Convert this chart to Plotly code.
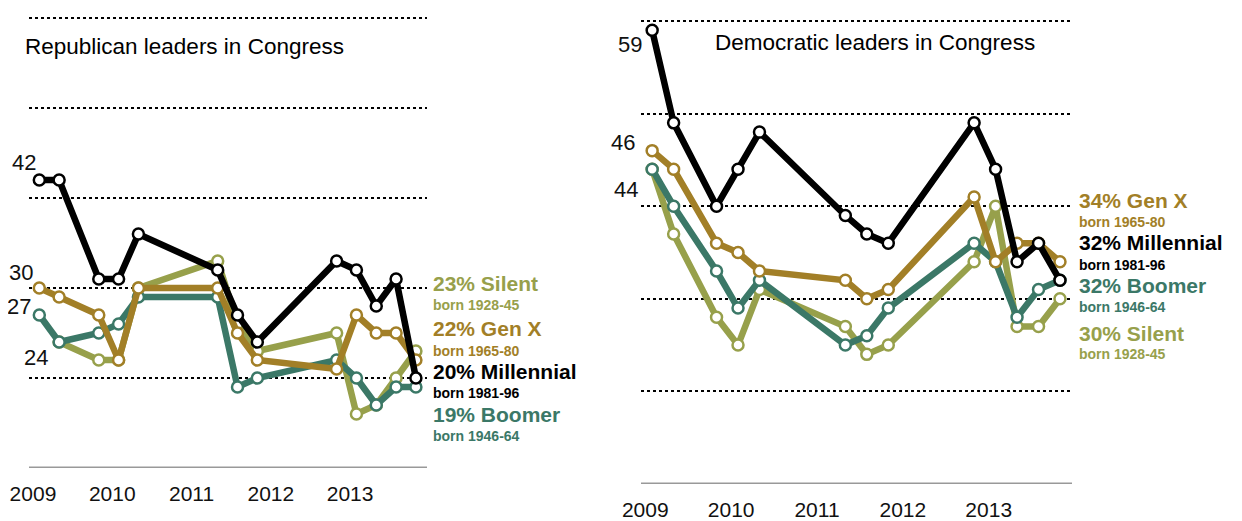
import plotly.graph_objects as go

# survey dates (decimal years)
dates = [2009.08, 2009.33, 2009.83, 2010.08, 2010.33, 2011.33, 2011.58, 2011.83,
         2012.83, 2013.08, 2013.33, 2013.58, 2013.83]

# Republican leaders in Congress
rep_silent = [None, 24, 22, 22, 30, 33, 26, 23, 25, 16, 17, 20, 23]
rep_boomer = [27, 24, 25, 26, 29, 29, 19, 20, 22, 20, 17, 19, 19]
rep_genx = [30, 29, 27, 22, 30, 30, 25, 22, 21, 27, 25, 25, 22]
rep_millennial = [42, 42, 31, 31, 36, 32, 27, 24, 33, 32, 28, 31, 20]

# Democratic leaders in Congress
dem_silent = [44, 37, 28, 25, 31, 27, 24, 25, 34, 40, 27, 27, 30]
dem_boomer = [44, 40, 33, 29, 32, 25, 26, 29, 36, 34, 28, 31, 32]
dem_genx = [46, 44, 36, 35, 33, 32, 30, 31, 41, 34, 36, 36, 34]
dem_millennial = [59, 49, 40, 44, 48, 39, 37, 36, 49, 44, 34, 36, 32]

year_ticks = [2009, 2010, 2011, 2012, 2013]
year_labels = ["2009", "2010", "2011", "2012", "2013"]
grid_vals = [20, 30, 40, 50, 60]

C_SILENT = "#97a04b"
C_BOOMER = "#3b7867"
C_GENX = "#a27f27"
C_MILL = "#000000"

# page body has an 8px default margin; the figure fills the rest
OFF = 8
W, H = 1242 - OFF, 521 - OFF

def px(x):
    return (x - OFF) / W

def py(y):
    return 1 - (y - OFF) / H

fig = go.Figure()

def add_series(xa, ya, vals, color):
    fig.add_trace(go.Scatter(
        x=dates, y=vals, xaxis=xa, yaxis=ya, mode="lines+markers",
        line=dict(color=color, width=6.5), connectgaps=False,
        marker=dict(symbol="circle", size=11, color="white",
                    line=dict(color=color, width=2.5)),
        hoverinfo="skip", showlegend=False))

for v, c in [(rep_silent, C_SILENT), (rep_boomer, C_BOOMER), (rep_genx, C_GENX), (rep_millennial, C_MILL)]:
    add_series("x", "y", v, c)
for v, c in [(dem_silent, C_SILENT), (dem_boomer, C_BOOMER), (dem_genx, C_GENX), (dem_millennial, C_MILL)]:
    add_series("x2", "y2", v, c)

FONT = "Liberation Sans, Arial, sans-serif"

xcommon = dict(range=[2008.95, 2013.97], tickvals=year_ticks, ticktext=year_labels,
               showgrid=False, zeroline=False, showline=False, automargin=False,
               ticks="outside", ticklen=7, tickcolor="rgba(0,0,0,0)",
               tickfont=dict(family=FONT, size=21, color="#111"),
               fixedrange=True)
ycommon = dict(range=[10, 61], tickvals=grid_vals, showticklabels=False,
               showgrid=True, griddash="dot", gridcolor="#000", gridwidth=2,
               zeroline=False, showline=False, automargin=False, fixedrange=True)

fig.update_layout(
    width=W, height=H, margin=dict(l=0, r=0, t=0, b=0, autoexpand=False),
    paper_bgcolor="white", plot_bgcolor="white",
    xaxis=dict(domain=[px(29), px(427)], anchor="y", **xcommon),
    yaxis=dict(domain=[py(468), py(468) + (py(18) - py(468)) * 51 / 50], anchor="x", **ycommon),
    xaxis2=dict(domain=[px(641), px(1072)], anchor="y2", **xcommon),
    yaxis2=dict(domain=[py(484), py(484) + (py(21) - py(484)) * 51 / 50], anchor="x2", **ycommon),
)

# baseline axes (gray)
fig.add_shape(type="line", xref="x domain", yref="y", x0=0, x1=1, y0=10, y1=10,
              line=dict(color="#999", width=3))
fig.add_shape(type="line", xref="x2 domain", yref="y2", x0=0, x1=1, y0=10, y1=10,
              line=dict(color="#999", width=3))

def ann(text, x, y, size, color, anchor="left", bold=False):
    fig.add_annotation(text=("<b>%s</b>" % text) if bold else text,
                       x=px(x), y=py(y), xref="paper", yref="paper",
                       xanchor=anchor, yanchor="middle", showarrow=False,
                       font=dict(family=FONT, size=size, color=color))

# titles
ann("Republican leaders in Congress", 23, 46, 22.5, "#000")
ann("Democratic leaders in Congress", 713, 43, 22.5, "#000")

# starting value labels
for t, x, y in [("42", 38, 163), ("30", 35, 272), ("27", 33, 306), ("24", 50, 357)]:
    ann(t, x, y, 22, "#111", anchor="right")
for t, x, y in [("59", 644, 44), ("46", 637, 142), ("44", 640, 189)]:
    ann(t, x, y, 22, "#111", anchor="right")

# end labels
rep_labels = [("23% Silent", "born 1928-45", C_SILENT, 283, 305),
              ("22% Gen X", "born 1965-80", C_GENX, 328, 351),
              ("20% Millennial", "born 1981-96", C_MILL, 371, 393),
              ("19% Boomer", "born 1946-64", C_BOOMER, 414, 436)]
dem_labels = [("34% Gen X", "born 1965-80", C_GENX, 200, 222),
              ("32% Millennial", "born 1981-96", C_MILL, 242, 265),
              ("32% Boomer", "born 1946-64", C_BOOMER, 285, 307),
              ("30% Silent", "born 1928-45", C_SILENT, 333, 354)]
for big, small, c, y1, y2 in rep_labels:
    ann(big, 431, y1, 21, c, bold=True)
    ann(small, 431, y2, 14, c, bold=True)
for big, small, c, y1, y2 in dem_labels:
    ann(big, 1077, y1, 21, c, bold=True)
    ann(small, 1077, y2, 14, c, bold=True)

fig.write_html("out.html")
